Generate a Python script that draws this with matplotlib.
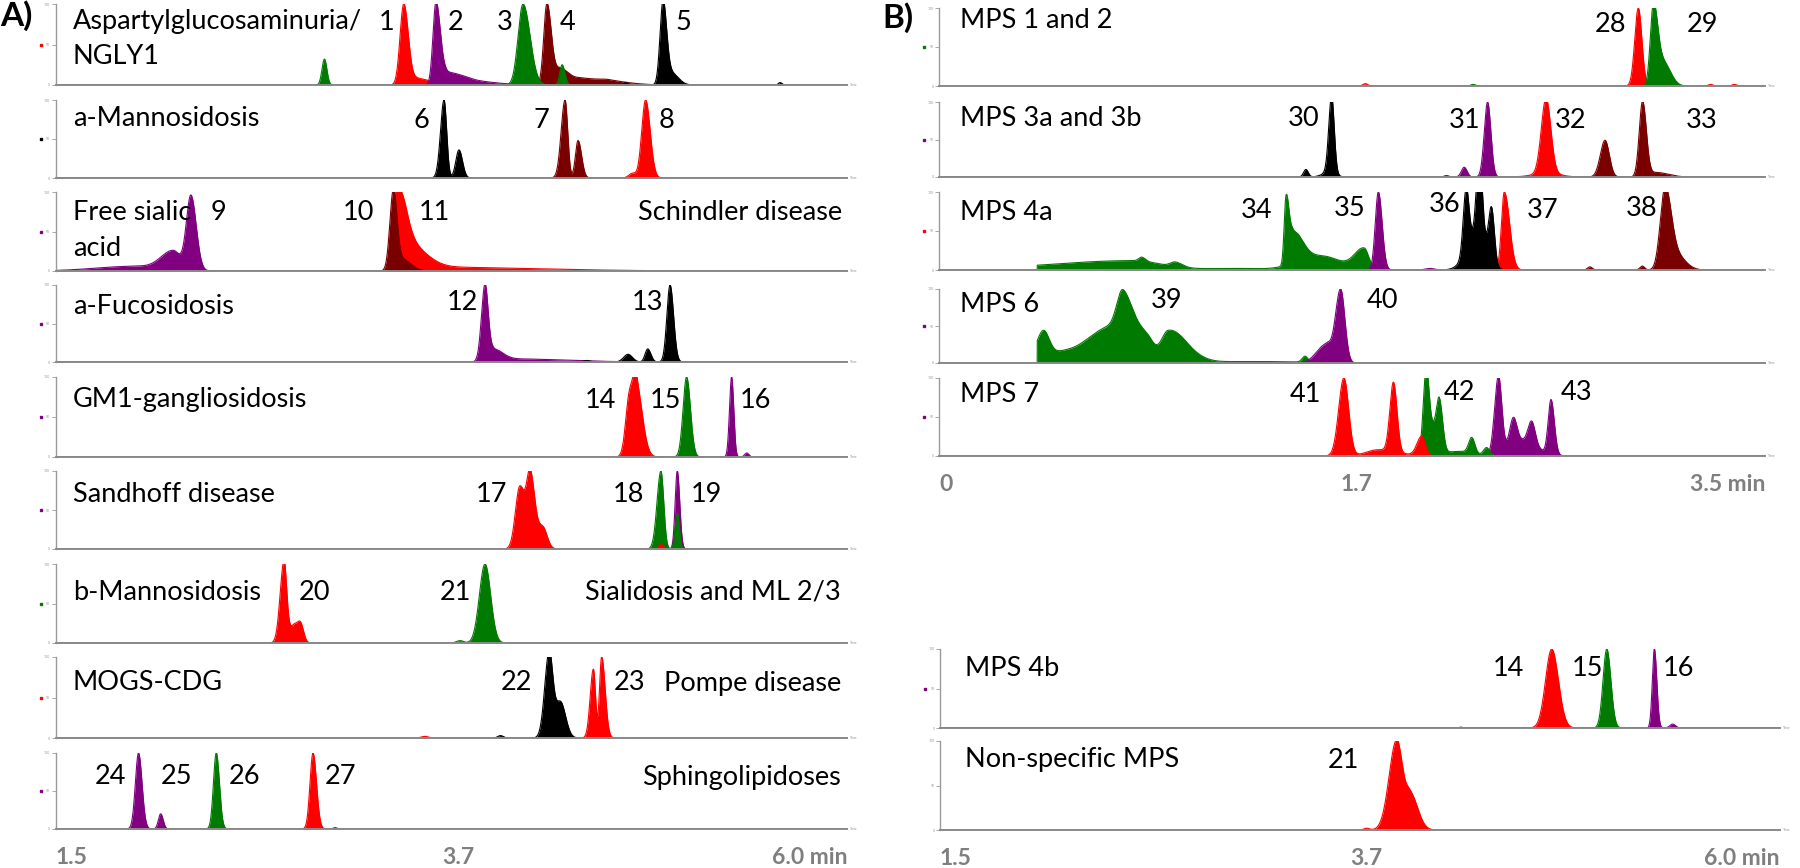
import numpy as np
import matplotlib.pyplot as plt

plt.rcParams['font.family'] = ['Lato', 'DejaVu Sans']

# ---- data: peaks per MRM channel as (retention time [min], relative height, sigma left, sigma right)
# panel A, 1.5 - 6.0 min
aspartyl = {
    'darkred': [(4.294, 1.0, .018, .025), (4.37, .20, .03, .05), (4.50, .08, .05, .10), (4.65, .04, .05, .12)],
    'red': [(3.480, 1.0, .021, .026), (3.56, .08, .03, .07)],
    'purple': [(3.663, 1.0, .017, .024), (3.72, .15, .03, .08), (3.85, .05, .06, .14)],
    'green': [(3.029, .32, .014, .014), (4.158, 1.0, .028, .040), (4.38, .25, .013, .016)],
    'black': [(4.74, .03, .01, .01), (4.954, 1.0, .017, .020), (5.00, .15, .03, .04), (5.62, .03, .01, .01)],
}
mannosidosis_a = {
    'black': [(3.709, 1.0, .020, .015), (3.794, .36, .018, .020)],
    'darkred': [(4.397, 1.0, .022, .015), (4.471, .48, .015, .020)],
    'red': [(4.78, .06, .02, .02), (4.855, 1.0, .022, .026)],
}
sialic = {
    'purple': [(1.95, .06, .22, .12), (2.17, .25, .07, .04), (2.27, .95, .026, .030)],
    'red': [(3.435, .95, .018, .05), (3.50, .30, .04, .10), (3.60, .05, .10, .60)],
    'darkred': [(3.421, 1.0, .020, .020), (3.47, .15, .03, .05)],
}
fucosidosis = {
    'purple': [(3.942, 1.0, .020, .018), (3.99, .15, .02, .05), (4.10, .04, .08, .30)],
    'black': [(4.52, .02, .02, .02), (4.755, .10, .025, .025), (4.867, .17, .015, .018),
              (4.994, 1.0, .018, .020)],
}
gm1 = {
    'red': [(4.765, .80, .022, .020), (4.80, .92, .015, .035)],
    'green': [(5.088, 1.0, .020, .022), (5.344, .10, .01, .01)],
    'purple': [(5.344, 1.0, .012, .012), (5.43, .05, .012, .012)],
}
sandhoff = {
    'red': [(4.14, .80, .025, .030), (4.20, .90, .020, .025), (4.27, .28, .030, .025)],
    'purple': [(5.035, 1.0, .012, .014)],
    'green': [(4.942, 1.0, .022, .016), (5.035, .46, .012, .012)],
    'red_front': [(4.942, .06, .015, .015)],
}
mannosidosis_b = {
    'red': [(2.799, 1.0, .022, .015), (2.85, .20, .03, .02), (2.892, .25, .02, .018)],
    'green': [(3.80, .03, .02, .02), (3.942, 1.0, .032, .032)],
}
mogs = {
    'black': [(4.03, .03, .015, .015), (4.306, 1.0, .025, .020), (4.37, .45, .035, .030)],
    'red': [(3.60, .02, .02, .02), (4.558, .85, .018, .012), (4.605, 1.0, .012, .020)],
}
sphingo = {
    'purple': [(1.972, 1.0, .018, .020), (2.098, .20, .013, .014)],
    'green': [(2.414, 1.0, .016, .018)],
    'red': [(2.964, 1.0, .017, .020), (3.09, .02, .01, .01)],
}

# panel B, 0 - 3.5 min
mps12 = {
    'red': [(1.806, .03, .01, .01), (2.963, 1.0, .015, .015), (3.12, .03, .01, .01),
            (3.27, .02, .01, .01), (3.37, .02, .01, .01)],
    'green': [(2.263, .02, .01, .01), (3.027, 1.0, .013, .018), (3.07, .30, .025, .030)],
}
mps3 = {
    'black': [(1.554, .10, .010, .010), (1.66, .08, .03, .02), (1.663, 1.0, .012, .011)],
    'purple': [(2.15, .02, .01, .01), (2.225, .13, .012, .012), (2.324, 1.0, .014, .014)],
    'red': [(2.572, 1.0, .020, .020), (2.58, .05, .06, .05)],
    'darkred': [(2.822, .49, .020, .018), (2.981, 1.0, .014, .016), (3.04, .06, .03, .05)],
}
mps4a = {
    'green': [(0.82, .12, .35, .12), (0.858, .05, .012, .015), (1.0, .06, .02, .03), (1.25, .02, .15, .10),
              (1.47, .85, .008, .012), (1.50, .40, .015, .04), (1.62, .18, .10, .08), (1.80, .27, .04, .02)],
    'purple': [(1.861, 1.0, .013, .016), (2.08, .02, .02, .02)],
    'red': [(2.395, 1.0, .012, .022)],
    'black': [(2.233, .80, .012, .012), (2.289, 1.0, .012, .012), (2.341, .67, .012, .012),
              (2.285, .50, .045, .035)],
    'darkred': [(2.758, .04, .01, .01), (2.98, .05, .01, .01), (3.076, 1.0, .020, .025), (3.12, .20, .03, .04)],
}
mps4a_green_start = 0.415
mps6 = {
    'green': [(0.44, .38, .03, .025), (0.50, .08, .05, .05), (0.78, .55, .025, .045), (0.74, .50, .12, .07),
              (0.88, .28, .04, .03), (0.97, .40, .03, .06), (1.05, .10, .05, .06), (1.35, .02, .30, .20),
              (1.55, .08, .012, .012)],
    'purple': [(1.64, .25, .04, .02), (1.701, 1.0, .022, .018)],
}
mps6_green_start = 0.415
mps7 = {
    'purple': [(2.37, .98, .016, .014), (2.433, .33, .015, .015), (2.511, .29, .015, .015),
               (2.593, .70, .012, .014), (2.47, .20, .06, .06)],
    'green': [(2.063, .99, .012, .012), (2.12, .61, .012, .014), (2.09, .35, .02, .02), (2.20, .06, .06, .06),
              (2.257, .20, .013, .013), (2.32, .10, .013, .013)],
    'red': [(1.715, 1.0, .022, .020), (1.86, .08, .05, .08), (1.925, .89, .015, .015), (2.045, .25, .02, .015)],
}

# panel B bottom, 1.5 - 6.0 min
mps4b = {
    'red': [(4.777, 1.0, .033, .036)],
    'green': [(5.072, 1.0, .020, .022), (5.327, .03, .015, .015)],
    'purple': [(5.327, 1.0, .011, .013), (5.425, .05, .015, .015)],
    'black': [(4.29, .01, .01, .01)],
}
nonspecific = {
    'red': [(3.786, .02, .015, .015), (3.946, 1.0, .040, .030), (4.02, .40, .030, .040)],
}

ticks_a = [1.5, 3.7, 6.0]
ticks_b = [0, 1.7, 3.5]

COL = {'red': '#ff0000', 'red_front': '#ff0000', 'purple': '#800080', 'green': '#007a00',
       'darkred': '#7a0000', 'black': '#000000'}

W, H = 1800, 868
fig = plt.figure(figsize=(18, 8.68), dpi=100)
FS = 19.5


def curve(t, peaks, start=None):
    y = np.zeros_like(t)
    for c, h, sl, sr in peaks:
        s = np.where(t < c, sl, sr)
        y += h * np.exp(-0.5 * ((t - c) / s) ** 2)
    if start is not None:
        y[t < start] = 0
    return y


def row(left, right, top, base, xlim, traces, dot=None, starts=None):
    ax = fig.add_axes([left / W, 1 - base / H, (right - left) / W, (base - top) / H])
    t = np.linspace(xlim[0], xlim[1], 6000)
    for ch, peaks in traces.items():
        st = starts.get(ch) if starts else None
        y = curve(t, peaks, st)
        ax.fill_between(t, 0, y, color=COL[ch], lw=0, zorder=2)
        ax.plot(t, y, color=COL[ch], lw=0.8, zorder=2)
    ax.set_xlim(xlim)
    ax.set_ylim(0, 1)
    for s in ['top', 'right']:
        ax.spines[s].set_visible(False)
    ax.spines['bottom'].set_color('#8a8a8a')
    ax.spines['bottom'].set_linewidth(1.4)
    ax.spines['left'].set_color('#9a9a9a')
    ax.spines['left'].set_linewidth(1.0)
    ax.set_xticks([])
    ax.set_yticks([0, 0.5, 1])
    ax.set_yticklabels(['0', '50', '100'])
    ax.tick_params(axis='y', length=3, width=0.6, color='#9a9a9a', labelsize=2.5,
                   labelcolor='#9a9a9a', pad=1)
    ax.text(1.004, 0, 'Time', transform=ax.transAxes, fontsize=2.5, color='#9a9a9a', va='center')
    if dot:
        ax.plot([-15.0 / (right - left)], [0.5], 's', ms=2, color=COL[dot],
                transform=ax.transAxes, clip_on=False)
    return ax


def label(txt, x, y, ha='center', size=FS, **kw):
    fig.text(x / W, 1 - y / H, txt, ha=ha, va='center', fontsize=size, **kw)


def xticks(ax, ticks):
    for i, tk in enumerate(ticks):
        last = i == len(ticks) - 1
        if last:
            txt = f'{tk:.1f} min'
        else:
            txt = f'{tk:g}' if tk == 0 else f'{tk:.1f}'
        ax.annotate(txt, (tk, 0), xycoords=ax.get_xaxis_transform(), xytext=(0, -20.5),
                    textcoords='offset points', ha='right' if last else 'left', va='center',
                    fontsize=16.5, fontweight='bold', color='#7f7f7f', annotation_clip=False)


# ---- panel A
AL, AR = 55.5, 847
xa = (1.5, 6.0)
rows_a = [(aspartyl, 4, 85, 'red'), (mannosidosis_a, 100, 178, 'black'), (sialic, 192, 271, 'purple'),
          (fucosidosis, 285, 362, 'purple'), (gm1, 377, 457, 'purple'), (sandhoff, 471, 549, 'purple'),
          (mannosidosis_b, 564, 643, 'green'), (mogs, 657, 738, 'red'), (sphingo, 753, 829, 'purple')]
for tr, top, base, dot in rows_a:
    ax = row(AL, AR, top, base, xa, tr, dot)
xticks(ax, ticks_a)

# ---- panel B top
BL, BR = 939.3, 1765
xb = (0, 3.5)
row(BL, BR, 8, 86, xb, mps12, 'green')
row(BL, BR, 102, 177, xb, mps3, 'purple')
row(BL, BR, 192, 270, xb, mps4a, 'red', {'green': mps4a_green_start})
row(BL, BR, 289, 363, xb, mps6, 'purple', {'green': mps6_green_start})
ax = row(BL, BR, 378, 456, xb, mps7, 'purple')
xticks(ax, ticks_b)

# ---- panel B bottom
row(940, 1780, 649, 728, xa, mps4b, 'purple')
ax = row(940, 1780, 741, 830, xa, nonspecific)
xticks(ax, ticks_a)

# ---- text
label('A)', 0, 16, ha='left', size=24, fontweight='bold')
label('B)', 882, 18, ha='left', size=24, fontweight='bold')

texts_a = [('Aspartylglucosaminuria/', 72.7, 22, 'left'), ('NGLY1', 72.7, 57, 'left'),
           ('1', 386.5, 22, 'center'), ('2', 455.4, 22, 'center'), ('3', 505, 22, 'center'),
           ('4', 568, 22, 'center'), ('5', 683, 22, 'center'),
           ('a-Mannosidosis', 72.7, 118, 'left'), ('6', 421, 120, 'center'), ('7', 541, 120, 'center'),
           ('8', 666, 120, 'center'),
           ('Free sialic', 72.7, 213, 'left'), ('acid', 72.7, 248, 'left'), ('9', 218, 213, 'center'),
           ('10', 358, 213, 'center'), ('11', 434, 213, 'center'), ('Schindler disease', 842, 213, 'right'),
           ('a-Fucosidosis', 72.7, 306, 'left'), ('12', 462, 302, 'center'), ('13', 648, 302, 'center'),
           ('GM1-gangliosidosis', 72.7, 400, 'left'), ('14', 600, 400, 'center'), ('15', 665, 400, 'center'),
           ('16', 755, 400, 'center'),
           ('Sandhoff disease', 72.7, 495, 'left'), ('17', 492, 495, 'center'), ('18', 628, 495, 'center'),
           ('19', 706, 495, 'center'),
           ('b-Mannosidosis', 72.7, 592, 'left'), ('20', 314, 592, 'center'), ('21', 455, 592, 'center'),
           ('Sialidosis and ML 2/3', 841, 592, 'right'),
           ('MOGS-CDG', 72.7, 683, 'left'), ('22', 517, 683, 'center'), ('23', 630, 683, 'center'),
           ('Pompe disease', 841, 683, 'right'),
           ('24', 111, 777, 'center'), ('25', 177, 777, 'center'), ('26', 245, 777, 'center'),
           ('27', 341, 777, 'center'), ('Sphingolipidoses', 841, 777, 'right')]
texts_b = [('MPS 1 and 2', 960, 20, 'left'), ('28', 1610, 25, 'center'), ('29', 1702, 25, 'center'),
           ('MPS 3a and 3b', 960, 118, 'left'), ('30', 1304, 118, 'center'), ('31', 1465, 120, 'center'),
           ('32', 1571, 120, 'center'), ('33', 1702, 120, 'center'),
           ('MPS 4a', 960, 212, 'left'), ('34', 1257, 210, 'center'), ('35', 1350, 208, 'center'),
           ('36', 1445, 205, 'center'), ('37', 1543, 210, 'center'), ('38', 1642, 208, 'center'),
           ('MPS 6', 960, 305, 'left'), ('39', 1167, 301, 'center'), ('40', 1382, 301, 'center'),
           ('MPS 7', 960, 395, 'left'), ('41', 1305, 395, 'center'), ('42', 1459, 393, 'center'),
           ('43', 1577, 392, 'center'),
           ('MPS 4b', 965, 668, 'left'), ('14', 1508, 668, 'center'), ('15', 1587, 668, 'center'),
           ('16', 1678, 668, 'center'),
           ('Non-specific MPS', 965, 760, 'left'), ('21', 1343, 760, 'center')]
for txt, x, y, ha in texts_a + texts_b:
    label(txt, x, y, ha=ha)

fig.savefig('out.png', dpi=100, facecolor='white')
